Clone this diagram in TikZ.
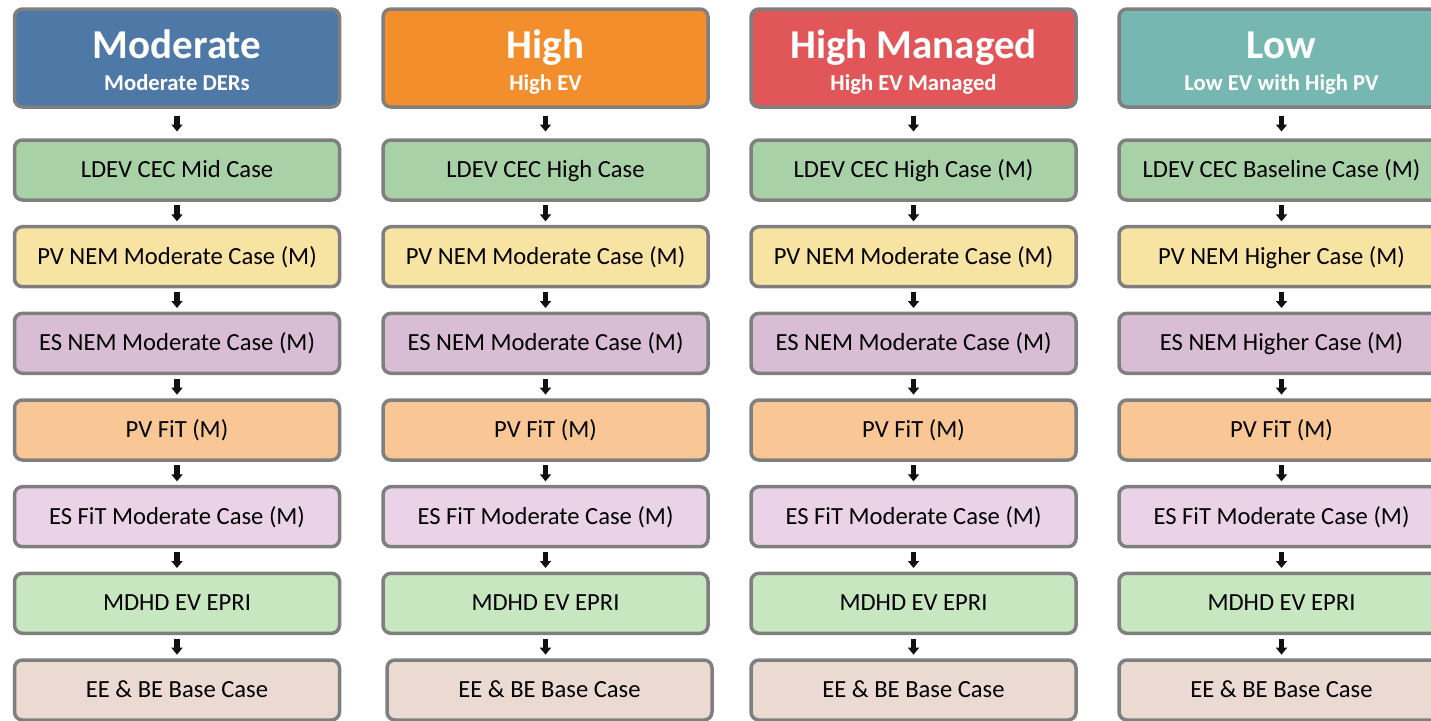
\documentclass[tikz,border=0pt]{standalone}
\usepackage{fontspec}
\setmainfont{Carlito}
\usetikzlibrary{arrows.meta,calc}
\definecolor{bordergray}{HTML}{7F7F7F}
\definecolor{arrowblack}{HTML}{111111}
\definecolor{hblue}{HTML}{4E79A7}
\definecolor{horange}{HTML}{F28E2B}
\definecolor{hred}{HTML}{E15759}
\definecolor{hteal}{HTML}{76B7B2}
\definecolor{cLDEV}{HTML}{A9D1A8}
\definecolor{cPVNEM}{HTML}{F7E4A3}
\definecolor{cESNEM}{HTML}{D8BDD5}
\definecolor{cPVFIT}{HTML}{F9C795}
\definecolor{cESFIT}{HTML}{EBD3E7}
\definecolor{cMDHD}{HTML}{C6E7C0}
\definecolor{cEEBE}{HTML}{EBDAD2}
\begin{document}
\begin{tikzpicture}[x=1pt,y=1pt,
  box/.style={draw=bordergray,line width=3.5pt,rounded corners=8pt,
    minimum width=325pt,minimum height=60pt,inner sep=0pt,
    text height=15.3pt,text depth=0pt,font=\fontsize{24.6}{28}\selectfont,text=black},
  head/.style={box,minimum height=98pt},
  ttl/.style={anchor=base,text=white,font=\fontsize{41}{44}\selectfont\bfseries,inner sep=0pt},
  sub/.style={anchor=base,text=white,font=\fontsize{22.7}{26}\selectfont\bfseries,inner sep=0pt},
  arr/.style={draw=arrowblack,line width=5.5pt,-{Triangle[width=11pt,length=7pt]}}]
\useasboundingbox (0,0) rectangle (1431,-720);
\clip (0,0) rectangle (1431,-720);
\foreach \c/\x/\d/\hc/\t/\s/\ra/\rb/\rc in {
  1/177/0/hblue/Moderate/Moderate DERs/LDEV CEC Mid Case/PV NEM Moderate Case (M)/ES NEM Moderate Case (M),
  2/545.5/4/horange/High/High EV/LDEV CEC High Case/PV NEM Moderate Case (M)/ES NEM Moderate Case (M),
  3/913.5/0/hred/High Managed/High EV Managed/LDEV CEC High Case (M)/PV NEM Moderate Case (M)/ES NEM Moderate Case (M),
  4/1281.5/0/hteal/Low/Low EV with High PV/LDEV CEC Baseline Case (M)/PV NEM Higher Case (M)/ES NEM Higher Case (M)}{
  \node[head,fill=\hc] (h-\c) at (\x,-58) {};
  \node[ttl] (t-\c) at (\x,-58) {\t};
  \node[sub] (s-\c) at (\x,-90.5) {\s};
  \node[box,fill=cLDEV] (r1-\c) at (\x,-170) {\ra};
  \node[box,fill=cPVNEM] (r2-\c) at (\x,-256.7) {\rb};
  \node[box,fill=cESNEM] (r3-\c) at (\x,-343.3) {\rc};
  \node[box,fill=cPVFIT] (r4-\c) at (\x,-430) {PV FiT (M)};
  \node[box,fill=cESFIT] (r5-\c) at (\x,-516.7) {ES FiT Moderate Case (M)};
  \node[box,fill=cMDHD] (r6-\c) at (\x,-603.3) {MDHD EV EPRI};
  \node[box,fill=cEEBE] (r7-\c) at (\x+\d,-690) {EE \& BE Base Case};
  \foreach \a/\b in {h/r1,r1/r2,r2/r3,r3/r4,r4/r5,r5/r6,r6/r7}{
    \draw[arr] ($(\a-\c.south)!0.5!(\a-\c.south|-\b-\c.north)+(0,8)$) --
               ($(\a-\c.south)!0.5!(\a-\c.south|-\b-\c.north)-(0,8)$);
  }
}
\end{tikzpicture}
\end{document}
